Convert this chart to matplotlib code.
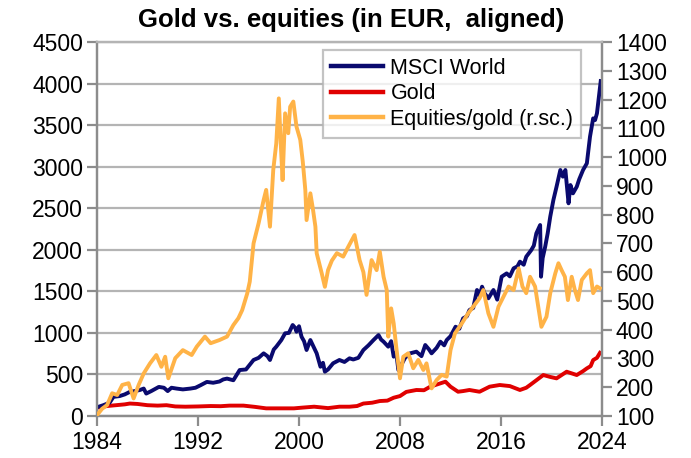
import matplotlib
matplotlib.use("Agg")
import matplotlib.pyplot as plt
from matplotlib.lines import Line2D

plt.rcParams['font.family'] = ['Liberation Sans', 'DejaVu Sans']

# ---------------- data ----------------
msci_t = [1984.0, 1984.5, 1985.0, 1985.3, 1985.8, 1986.2, 1986.6, 1987.0, 1987.4, 1987.7, 1987.9,
          1988.3, 1988.9, 1989.3, 1989.6, 1989.9, 1990.3, 1990.8, 1991.4, 1991.8, 1992.2, 1992.7,
          1993.2, 1993.7, 1994.0, 1994.3, 1994.8, 1995.3, 1995.8, 1996.4, 1996.8, 1997.2, 1997.5,
          1997.7, 1998.0, 1998.2, 1998.6, 1998.9, 1999.2, 1999.5, 1999.7, 1999.8, 2000.0, 2000.2,
          2000.4, 2000.6, 2000.9, 2001.1, 2001.4, 2001.7, 2001.9, 2002.05, 2002.3, 2002.7, 2003.2,
          2003.6, 2004.0, 2004.3, 2004.7, 2005.1, 2005.5, 2005.9, 2006.3, 2006.5, 2006.7, 2007.07,
          2007.3, 2007.5, 2007.7, 2007.87, 2008.1, 2008.4, 2008.8, 2009.3, 2009.7, 2010.0, 2010.3,
          2010.5, 2010.9, 2011.2, 2011.5, 2011.7, 2012.0, 2012.4, 2012.7, 2013.0, 2013.3, 2013.5,
          2013.8, 2014.1, 2014.3, 2014.5, 2014.7, 2015.0, 2015.4, 2015.7, 2016.05, 2016.45, 2016.7,
          2017.0, 2017.3, 2017.5, 2017.8, 2018.0, 2018.4, 2018.6, 2018.8, 2019.1, 2019.17, 2019.3,
          2019.5, 2019.7, 2019.9, 2020.15, 2020.4, 2020.7, 2020.9, 2021.1, 2021.35, 2021.5, 2021.7,
          2022.0, 2022.2, 2022.5, 2022.8, 2023.05, 2023.3, 2023.45, 2023.6, 2023.8, 2023.9]
msci = [105, 130, 160, 230, 240, 260, 290, 300, 313, 330, 270,
        300, 350, 340, 300, 340, 330, 320, 330, 340, 370, 410,
        400, 415, 440, 450, 430, 553, 560, 674, 700, 754, 720,
        674, 800, 834, 914, 995, 1000, 1095, 1060, 1014, 1080, 954,
        900, 794, 914, 850, 754, 593, 640, 533, 560, 634, 674,
        650, 694, 680, 700, 794, 850, 914, 974, 920, 894, 834,
        900, 714, 760, 553, 614, 700, 754, 774, 720, 854, 800,
        754, 820, 894, 850, 914, 960, 1074, 1050, 1175, 1200, 1275,
        1300, 1516, 1450, 1556, 1476, 1416, 1516, 1400, 1676, 1716, 1680,
        1777, 1800, 1857, 1820, 1917, 1997, 2050, 2198, 2298, 1676, 1900,
        2037, 2200, 2398, 2599, 2759, 2960, 2880, 2960, 2559, 2779, 2679,
        2759, 2850, 2960, 3040, 3361, 3581, 3560, 3641, 3900, 4030]

gold_t = [1984.0, 1984.8, 1985.5, 1986.2, 1986.6, 1987.2, 1988.0, 1988.8, 1989.5, 1990.2, 1991.0,
          1992.0, 1993.0, 1993.8, 1994.5, 1995.6, 1996.5, 1997.4, 1998.5, 1999.6, 2000.2, 2001.2,
          2002.3, 2003.2, 2004.0, 2004.6, 2005.1, 2005.8, 2006.4, 2007.0, 2007.5, 2008.0, 2008.5,
          2009.3, 2009.9, 2010.4, 2011.2, 2011.6, 2012.0, 2012.6, 2013.0, 2013.5, 2014.3, 2015.1,
          2015.9, 2016.7, 2017.5, 2018.0, 2018.3, 2018.8, 2019.35, 2019.9, 2020.4, 2021.2, 2022.0,
          2022.5, 2022.8, 2023.1, 2023.3, 2023.6, 2023.84]
gold = [100, 120, 130, 140, 150, 145, 130, 125, 130, 115, 112,
        115, 120, 118, 125, 125, 110, 92, 92, 92, 100, 112,
        95, 112, 112, 120, 150, 160, 180, 185, 220, 240, 290,
        313, 310, 353, 393, 413, 353, 292, 300, 313, 292, 353,
        373, 360, 313, 340, 373, 430, 493, 470, 453, 533, 493,
        540, 573, 600, 673, 700, 760]

ratio_t = [1984.0, 1984.4, 1984.8, 1985.2, 1985.6, 1986.0, 1986.5, 1986.9, 1987.3, 1987.7, 1988.2,
           1988.7, 1989.1, 1989.4, 1989.65, 1990.2, 1990.8, 1991.5, 1991.9, 1992.55, 1993.0, 1993.7,
           1994.3, 1994.8, 1995.2, 1995.5, 1995.9, 1996.1, 1996.4, 1996.8, 1997.2, 1997.4, 1997.7,
           1997.96, 1998.2, 1998.4, 1998.55, 1998.7, 1998.9, 1999.15, 1999.3, 1999.55, 1999.8, 2000.1,
           2000.3, 2000.5, 2000.6, 2000.9, 2001.1, 2001.3, 2001.4, 2001.8, 2002.05, 2002.3, 2002.6,
           2003.0, 2003.5, 2003.9, 2004.4, 2004.8, 2005.1, 2005.35, 2005.75, 2006.15, 2006.4, 2006.7,
           2006.95, 2007.07, 2007.3, 2007.5, 2007.7, 2008.0, 2008.26, 2008.65, 2009.05, 2009.45,
           2009.85, 2010.1, 2010.5, 2010.9, 2011.3, 2011.7, 2012.0, 2012.35, 2012.9, 2013.4, 2013.8,
           2014.3, 2014.6, 2015.0, 2015.4, 2015.8, 2016.2, 2016.6, 2017.0, 2017.4, 2017.7, 2018.0,
           2018.3, 2018.7, 2018.95, 2019.2, 2019.6, 2019.9, 2020.3, 2020.55, 2020.8, 2021.06, 2021.3,
           2021.6, 2021.85, 2022.1, 2022.4, 2022.8, 2023.05, 2023.3, 2023.6, 2023.84]
ratio = [103, 125, 138, 179, 173, 208, 214, 161, 208, 248, 283,
         312, 271, 306, 231, 301, 329, 312, 341, 376, 353, 364,
         376, 416, 440, 468, 526, 567, 700, 770, 851, 886, 758,
         955, 1048, 1204, 1050, 920, 1152, 1083, 1175, 1193, 1106, 1060,
         984, 886, 781, 874, 820, 758, 666, 596, 549, 607, 640,
         666, 654, 688, 729, 642, 600, 521, 642, 607, 671, 584,
         538, 376, 474, 422, 341, 231, 306, 318, 266, 295,
         260, 283, 196, 225, 243, 237, 329, 387, 422, 457, 480,
         509, 538, 457, 410, 480, 515, 550, 538, 613, 550, 527,
         584, 550, 480, 410, 445, 527, 596, 631, 607, 584, 503,
         584, 538, 503, 573, 596, 607, 527, 550, 544]

left_ticks = [0, 500, 1000, 1500, 2000, 2500, 3000, 3500, 4000, 4500]
right_ticks = [100, 200, 300, 400, 500, 600, 700, 800, 900, 1000, 1100, 1200, 1300, 1400]
x_ticks = [1984, 1992, 2000, 2008, 2016, 2024]

title = "Gold vs. equities (in EUR,  aligned)"
labels = ["MSCI World", "Gold", "Equities/gold (r.sc.)"]
colors = ["#0a0a6e", "#e00000", "#ffb347"]

# ---------------- figure ----------------
W, H = 691, 458
fig = plt.figure(figsize=(W / 100, H / 100), dpi=100)
ax = fig.add_axes([97 / W, 1 - 416 / H, (602 - 97) / W, (416 - 42) / H])
ax2 = ax.twinx()

lw = 2.8
ax.plot(msci_t, msci, color=colors[0], lw=lw, zorder=3)
ax.plot(gold_t, gold, color=colors[1], lw=lw, zorder=2)
ax2.plot(ratio_t, ratio, color=colors[2], lw=lw, zorder=3)

ax.set_xlim(1984, 2024)
ax.set_ylim(0, 4500)
ax2.set_ylim(100, 1400)
ax.set_xticks(x_ticks)
ax.set_yticks(left_ticks)
ax2.set_yticks(right_ticks)

grid_c = "#b4b4b4"
spine_c = "#8c8c8c"
ax.grid(axis='y', color=grid_c, lw=1.6)
ax.set_axisbelow(True)
for a in (ax, ax2):
    for s in a.spines.values():
        s.set_color(spine_c)
        s.set_linewidth(1.6)
ax.spines['top'].set_color(grid_c)
ax2.spines['top'].set_color(grid_c)

fs = 16.5
ax.tick_params(axis='both', labelsize=fs, length=7, width=1.6, color=spine_c, pad=3)
ax2.tick_params(axis='y', labelsize=fs, length=7, width=1.6, color=spine_c, pad=3)
ax.tick_params(axis='x', pad=4)

fig.text(0.508, 1 - 20 / H, title, ha='center', va='center', fontsize=18.5, fontweight='bold')

handles = [Line2D([0], [0], color=c, lw=3.2) for c in colors]
leg = ax2.legend(handles, labels, loc='upper right', bbox_to_anchor=(581 / W, 1 - 50 / H),
                 bbox_transform=fig.transFigure, fontsize=15.5, frameon=True, fancybox=False,
                 edgecolor="#b4b4b4", handlelength=2.4, handletextpad=0.37, labelspacing=0.22,
                 borderpad=0.35, borderaxespad=0)
leg.get_frame().set_linewidth(1.6)
leg.set_zorder(10)

fig.savefig("out.png", dpi=100)
